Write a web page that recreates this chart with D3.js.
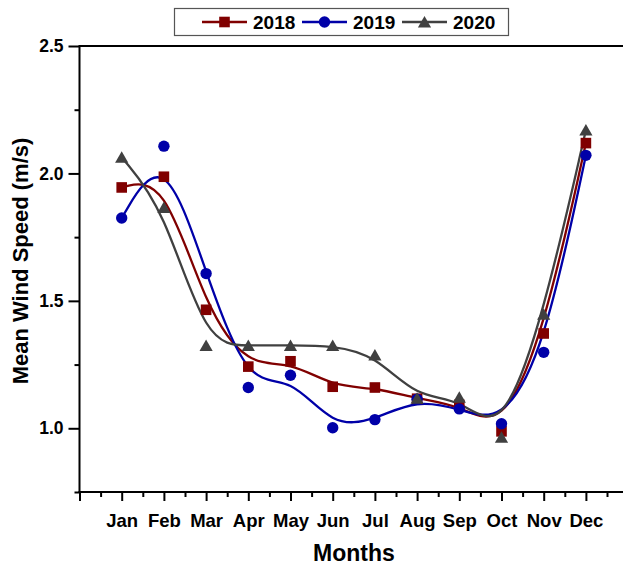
<!DOCTYPE html>
<html>
<head>
<meta charset="utf-8">
<script src="https://cdn.jsdelivr.net/npm/d3@7"></script>
<style>
  html, body { margin: 0; padding: 0; background: #fff; }
  svg { display: block; }
  text { font-family: "Liberation Sans", Arial, sans-serif; font-weight: bold; fill: #000; }
</style>
</head>
<body>
<svg id="chart" width="623" height="566"></svg>
<script>
// Monthly mean wind speed (m/s) for three years
const months = ["Jan", "Feb", "Mar", "Apr", "May", "Jun", "Jul", "Aug", "Sep", "Oct", "Nov", "Dec"];
const speed2018 = [1.945, 1.987, 1.465, 1.242, 1.263, 1.163, 1.160, 1.116, 1.092, 0.988, 1.372, 2.119];
const speed2019 = [1.825, 2.107, 1.607, 1.160, 1.208, 1.002, 1.034, 1.114, 1.076, 1.018, 1.298, 2.071];
const speed2020 = [2.063, 1.866, 1.325, 1.325, 1.325, 1.325, 1.288, 1.118, 1.122, 0.965, 1.447, 2.170];
const yMajorTicks = [1.0, 1.5, 2.0, 2.5];
const yMinorTicks = [0.75, 1.25, 1.75, 2.25];

const series = [
  { name: "2018", values: speed2018, color: "#800000", shape: "square" },
  { name: "2019", values: speed2019, color: "#0000A8", shape: "circle" },
  { name: "2020", values: speed2020, color: "#404040", shape: "triangle" }
];

const svg = d3.select("#chart");
const x = d3.scaleLinear().domain([0, 13]).range([79.5, 79.5 + 13 * 42.2]);
const y = d3.scaleLinear().domain([0.75, 2.5]).range([492, 46]);

// marker painter shared by plot and legend
function marker(g, shape, cx, cy, color) {
  if (shape === "square") {
    g.append("rect").attr("x", cx - 5.3).attr("y", cy - 5.3)
      .attr("width", 10.6).attr("height", 10.6).attr("fill", color);
  } else if (shape === "circle") {
    g.append("circle").attr("cx", cx).attr("cy", cy).attr("r", 5.7).attr("fill", color);
  } else {
    g.append("path")
      .attr("d", `M${cx},${cy - 6} L${cx + 6.6},${cy + 5.5} L${cx - 6.6},${cy + 5.5} Z`)
      .attr("fill", color);
  }
}

// axes
const axisG = svg.append("g").attr("class", "axes");
const yAxisMajor = d3.axisLeft(y).tickValues(yMajorTicks).tickSize(11).tickPadding(5)
  .tickFormat(d3.format(".1f"));
const yAxisMinor = d3.axisLeft(y).tickValues(yMinorTicks).tickSize(5).tickFormat("");
const xAxisMajor = d3.axisBottom(x).tickValues(d3.range(0, 13)).tickSize(9).tickPadding(13)
  .tickFormat(d => d >= 1 ? months[d - 1] : "");
const xAxisMinor = d3.axisBottom(x).tickValues(d3.range(0.5, 13, 1)).tickSize(5).tickFormat("");

function styleAxis(g) {
  g.selectAll("path.domain").remove();
  g.selectAll("line").attr("stroke", "#000").attr("stroke-width", 2);
}

axisG.append("g").attr("transform", `translate(${x(0)},0)`).call(yAxisMinor).call(styleAxis);
axisG.append("g").attr("transform", `translate(${x(0)},0)`).call(yAxisMajor).call(styleAxis)
  .selectAll("text").attr("font-size", 17.5).attr("font-weight", "bold")
  .attr("font-family", "Liberation Sans, Arial, sans-serif").attr("fill", "#000");
axisG.append("g").attr("transform", `translate(0,${y(0.75)})`).call(xAxisMinor).call(styleAxis);
axisG.append("g").attr("transform", `translate(0,${y(0.75)})`).call(xAxisMajor).call(styleAxis)
  .selectAll("text").attr("font-size", 18.5).attr("font-weight", "bold")
  .attr("font-family", "Liberation Sans, Arial, sans-serif").attr("fill", "#000");

// frame lines: left spine, bottom and top
axisG.append("line").attr("x1", x(0)).attr("x2", x(0)).attr("y1", y(2.5)).attr("y2", y(0.75))
  .attr("stroke", "#000").attr("stroke-width", 2);
axisG.append("line").attr("x1", x(0) - 1).attr("x2", 623).attr("y1", y(0.75)).attr("y2", y(0.75))
  .attr("stroke", "#000").attr("stroke-width", 2);
axisG.append("line").attr("x1", x(0) - 1).attr("x2", 623).attr("y1", y(2.5)).attr("y2", y(2.5))
  .attr("stroke", "#000").attr("stroke-width", 2);

// axis titles
svg.append("text").attr("transform", "translate(28,261) rotate(-90)")
  .attr("text-anchor", "middle").attr("font-size", 22).text("Mean Wind Speed (m/s)");
svg.append("text").attr("x", 354).attr("y", 561)
  .attr("text-anchor", "middle").attr("font-size", 23).text("Months");

// smoothed curves and markers
const line = d3.line().x((d, i) => x(i + 1)).y(d => y(d)).curve(d3.curveBasis);
const plot = svg.append("g");
series.forEach(s => {
  plot.append("path").datum(s.values).attr("d", line)
    .attr("fill", "none").attr("stroke", s.color).attr("stroke-width", 2.3);
});
series.forEach(s => {
  const g = plot.append("g");
  s.values.forEach((v, i) => marker(g, s.shape, x(i + 1), y(v), s.color));
});

// legend
const legend = svg.append("g");
legend.append("rect").attr("x", 174.5).attr("y", 8.5).attr("width", 334).attr("height", 27)
  .attr("fill", "#fff").attr("stroke", "#555").attr("stroke-width", 1.2);
const legendX = [202, 302, 402];
series.forEach((s, i) => {
  const lx = legendX[i];
  legend.append("line").attr("x1", lx).attr("x2", lx + 45).attr("y1", 22).attr("y2", 22)
    .attr("stroke", s.color).attr("stroke-width", 2.3);
  marker(legend, s.shape, lx + 22.5, 22, s.color);
  legend.append("text").attr("x", lx + 51).attr("y", 29).attr("font-size", 19).text(s.name);
});
</script>
</body>
</html>
